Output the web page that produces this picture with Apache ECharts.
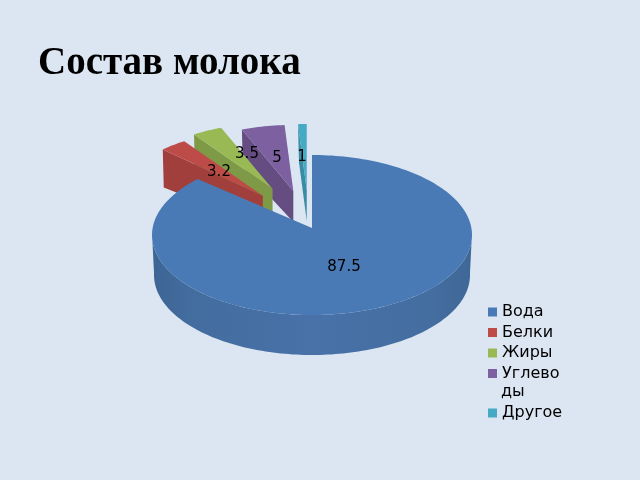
<!DOCTYPE html>
<html><head><meta charset="utf-8">
<style>html,body{margin:0;padding:0;background:#dce6f2}#c{width:640px;height:480px}</style>
<script src="https://cdn.jsdelivr.net/npm/echarts@6/dist/echarts.min.js"></script>
</head><body><div id="c"></div>
<script>
const titleText = 'Состав молока';
const categories = ['Вода', 'Белки', 'Жиры', 'Углеводы', 'Другое'];
const values = [87.5, 3.2, 3.5, 5, 1];
const topColors = ['#4a7ab5', '#bd4c49', '#98b954', '#7d60a0', '#46aac5'];
const sideColors = ['#44709f', '#a03f3c', '#7f9a46', '#654d82', '#3a8ca3'];
const explodeX = [0, 72, 78, 72, 72];
const explodeY = [0, 42, 44, 38, 38];
const total = values.reduce((a, b) => a + b, 0);
const starts = values.map((_, i) => values.slice(0, i).reduce((a, b) => a + b, 0));
const rad = v => v / total * Math.PI * 2;
function ell(cx, cy, rx, ry, a) { return [cx + rx * Math.sin(a), cy - ry * Math.cos(a)]; }
function arc(cx, cy, rx, ry, a0, a1) {
  const n = Math.max(2, Math.ceil(Math.abs(a1 - a0) * 40)), p = [];
  for (let i = 0; i <= n; i++) p.push(ell(cx, cy, rx, ry, a0 + (a1 - a0) * i / n));
  return p;
}
function poly(points, fill, z2) { return { type: 'polygon', z2: z2 || 0, shape: { points }, style: { fill } }; }
function renderSlice(i) {
  return function (params, api) {
    const v = api.value(0);
    const a0 = rad(starts[i]), a1 = a0 + rad(v);
    const kids = [];
    if (i === 0) {
      const tip = [312, 228];
      const wt = arc(312, 235, 160, 80, Math.PI / 2 - 0.02, Math.PI * 1.5 + 0.02);
      const wb = arc(312, 275, 158, 80, Math.PI * 1.5 + 0.02, Math.PI / 2 - 0.02);
      kids.push({ type: 'polygon', shape: { points: wt.concat(wb) }, style: {
        fill: new echarts.graphic.LinearGradient(0, 0, 1, 0, [
          { offset: 0, color: '#3d6594' }, { offset: 0.12, color: '#436d9f' },
          { offset: 0.5, color: '#4872a8' }, { offset: 0.88, color: '#446ea0' },
          { offset: 1, color: '#3f6796' }])
      } });
      kids.push(poly([tip].concat(arc(312, 235, 160, 80, a0, a1)), topColors[i], 1));
    } else {
      const mid = (a0 + a1) / 2;
      const t = [309 + explodeX[i] * Math.sin(mid), 228 - explodeY[i] * Math.cos(mid)];
      const rx = 140, ry = 66, d = 31;
      const c0 = ell(t[0], t[1], rx, ry, a0);
      kids.push(poly([c0, t, [t[0], t[1] + d], [c0[0] + 1, c0[1] + d + 7]], sideColors[i], 0));
      kids.push(poly([t].concat(arc(t[0], t[1], rx, ry, a0, a1)), topColors[i], 1));
    }
    return { type: 'group', children: kids };
  };
}
const labelPos = [[344, 267], [219, 172], [247, 154], [277, 158], [302, 157]];
const drawOrder = [4, 3, 2, 1, 0];
const series = categories.map((name, i) => ({
  type: 'custom', name, coordinateSystem: 'none', silent: true, z: 2 + drawOrder.indexOf(i),
  itemStyle: { color: topColors[i] },
  data: [[values[i]]], renderItem: renderSlice(i)
}));
series.push({
  type: 'custom', name: 'labels', coordinateSystem: 'none', silent: true, z: 20,
  data: values.map(v => [v]),
  renderItem: (params, api) => ({
    type: 'text', x: labelPos[params.dataIndex][0], y: labelPos[params.dataIndex][1],
    style: { text: String(api.value(0)), fill: '#000', font: '15px "DejaVu Sans"', align: 'center', verticalAlign: 'middle' }
  })
});
const legendText = { color: '#000', fontFamily: 'DejaVu Sans', fontSize: 16, lineHeight: 20 };
const chart = echarts.init(document.getElementById('c'));
chart.setOption({
  animation: false,
  backgroundColor: '#dce6f2',
  title: { text: titleText, left: 33, top: 39, textStyle: { fontFamily: 'Liberation Serif', fontWeight: 'bold', fontSize: 39, color: '#000' } },
  legend: [
    { orient: 'vertical', left: 483, top: 297, itemWidth: 9, itemHeight: 9, itemGap: 0.5, icon: 'rect', selectedMode: false,
      data: categories.slice(0, 4), textStyle: legendText, formatter: n => n === 'Углеводы' ? 'Углево' : n },
    { orient: 'vertical', left: 483, top: 398, itemWidth: 9, itemHeight: 9, icon: 'rect', selectedMode: false,
      data: categories.slice(4), textStyle: legendText }
  ],
  graphic: [{ type: 'text', left: 501, top: 384, style: { text: 'ды', fill: '#000', font: '16px "DejaVu Sans"' } }],
  series
});
</script></body></html>
